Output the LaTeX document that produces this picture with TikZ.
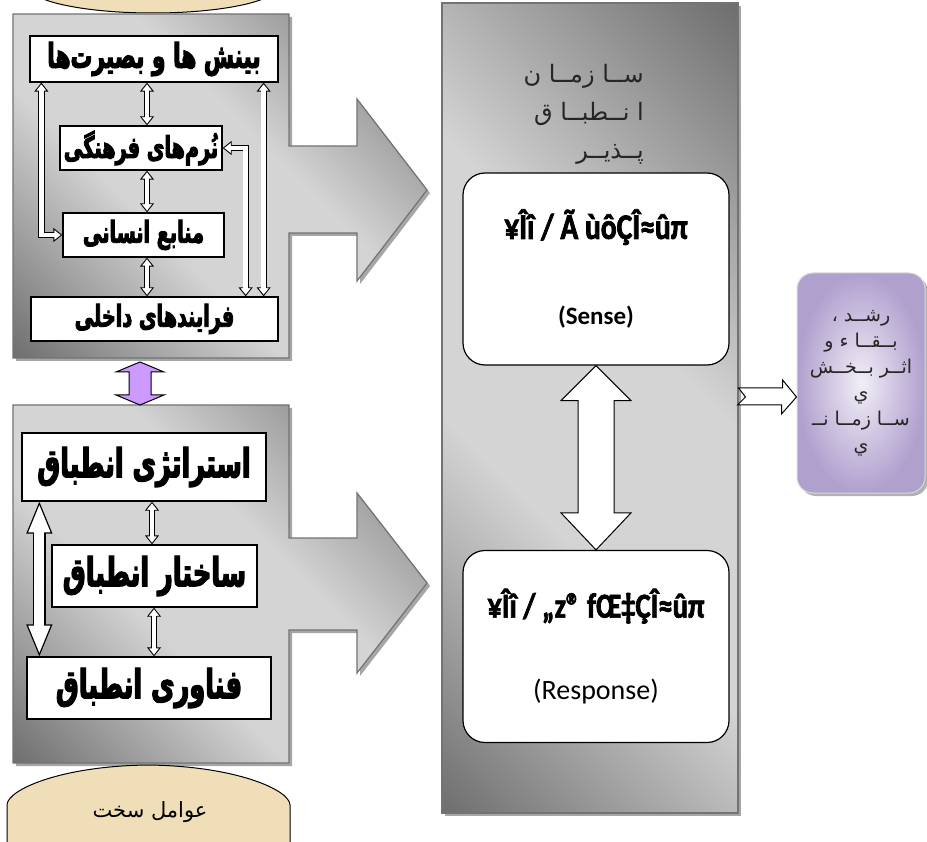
\documentclass[tikz,border=0pt]{standalone}
\usepackage{fontspec}
\setmainfont{Carlito}
\newfontfamily\garbled[FakeStretch=0.82, BoldFeatures={FakeBold=2}]{Carlito}
\newfontfamily\fafont[Script=Arabic]{DejaVu Sans}
\newfontfamily\fabox[Script=Arabic, FakeStretch=0.64, BoldFeatures={FakeBold=3}]{DejaVu Sans}
\TeXXeTstate=1
\usetikzlibrary{arrows.meta,calc,shadows}
\definecolor{panelDark}{RGB}{100,100,100}
\definecolor{panelLight}{RGB}{212,212,212}
\definecolor{sand}{RGB}{239,222,184}
\definecolor{lilac}{RGB}{204,153,255}
\definecolor{mauveDark}{RGB}{176,160,206}
\definecolor{mauveLight}{RGB}{242,238,247}
\pgfdeclarehorizontalshading{panelshade}{100bp}{color(0bp)=(panelDark); color(12bp)=(panelDark); color(40bp)=(panelLight); color(58bp)=(panelLight); color(88bp)=(panelDark); color(100bp)=(panelDark)}

\begin{document}
\begin{tikzpicture}[
		x=1pt, y=-1pt,
		panel/.style={draw=black!55, line width=1.2pt, shading=panelshade, shading angle=45,
			drop shadow={shadow xshift=3pt, shadow yshift=-3pt, fill=black!35, opacity=1}},
		factor/.style={draw, line width=1.3pt, fill=white, inner sep=0pt, font=\fabox\bfseries\fontsize{30}{34}\selectfont},
		bigfactor/.style={factor, font=\fabox\bfseries\fontsize{40}{44}\selectfont},
		phase/.style={draw, line width=1.2pt, fill=white, rounded corners=22pt, minimum width=266pt, minimum height=192pt, align=center, inner sep=0pt, font=\garbled\bfseries\fontsize{35}{38}\selectfont},
		link/.style={draw, line width=0.9pt, {Triangle[width=14pt,length=9pt,fill=white]}-{Triangle[width=14pt,length=9pt,fill=white]},
			preaction={draw, -, line width=6.3pt, shorten <=8pt, shorten >=8pt},
			postaction={draw=white, -, line width=4.5pt, shorten <=7.5pt, shorten >=7.5pt}},
		biglink/.style={draw, line width=1.2pt, {Triangle[width=26pt,length=32pt,fill=white]}-{Triangle[width=26pt,length=32pt,fill=white]},
			preaction={draw, -, line width=12.4pt, shorten <=30pt, shorten >=30pt},
			postaction={draw=white, -, line width=10pt, shorten <=30pt, shorten >=30pt}},
		block/.style={draw, line width=1pt, fill=white, line join=miter},
		sandcap/.style={draw, line width=1pt, fill=sand}
	]
	\useasboundingbox (0,0) rectangle (927,842);

	% soft and hard factors
	\draw[sandcap] (38,-20) -- (38,-5) .. controls (38,0) and (80,13) .. (153,13) .. controls (226,13) and (268,0) .. (268,-5) -- (268,-20) -- cycle;
	\draw[panel] (13,14) -- (289,14) -- (289,146) -- (357,146) -- (357,99) -- (427,190) -- (357,281) -- (357,233) -- (289,233) -- (289,358) -- (13,358) -- cycle;
	\draw[panel] (13,405) -- (289,405) -- (289,538) -- (357,538) -- (357,493) -- (427,583) -- (357,673) -- (357,630) -- (289,630) -- (289,763) -- (13,763) -- cycle;
	\draw[sandcap] (7,850) -- (7,805) .. controls (7,790) and (60,766) .. (148,765) .. controls (236,766) and (290,790) .. (290,805) -- (290,850) -- cycle;
	\node[font=\fafont\fontsize{21}{24}\selectfont] (hard) at (150,812) {\beginR عوامل سخت\endR};

	\node[factor, minimum width=248pt, minimum height=46pt, font=\fabox\bfseries\fontsize{34}{38}\selectfont] (insight) at (154,59) {\beginR بینش ها و بصیرت‌ها\endR};
	\node[factor, minimum width=162pt, minimum height=44pt] (norms) at (141,148) {\beginR نُرم‌های فرهنگی\endR};
	\node[factor, minimum width=161pt, minimum height=44pt] (people) at (143.5,235) {\beginR منابع انسانی\endR};
	\node[factor, minimum width=247pt, minimum height=44pt] (process) at (154.5,319) {\beginR فرایندهای  داخلی\endR};

	\node[bigfactor, minimum width=244pt, minimum height=68pt] (strategy) at (144,467) {\beginR استراتژی انطباق\endR};
	\node[bigfactor, minimum width=205pt, minimum height=62pt] (structure) at (154.5,576) {\beginR ساختار انطباق\endR};
	\node[bigfactor, minimum width=244pt, minimum height=62pt] (tech) at (149,688) {\beginR فناوری انطباق\endR};

	\draw[link] ($(insight.south)+(-7,0)$) -- ($(norms.north)+(6,0)$);
	\draw[link] ($(norms.south)+(6,0)$) -- ($(people.north)+(3.5,0)$);
	\draw[link] ($(people.south)+(3.5,0)$) -- ($(process.north)+(-7.5,0)$);
	\draw[link] ($(insight.south west)+(12,0)$) |- (people.west);
	\draw[link] (norms.east) -| ($(process.north east)+(-33,0)$);
	\draw[link] ($(insight.south east)+(-15,0)$) -- ($(process.north east)+(-15,0)$);

	\draw[link] ($(strategy.south)+(8,0)$) -- ($(structure.north)+(-2.5,0)$);
	\draw[link] ($(structure.south)+(-0.5,0)$) -- ($(tech.north)+(5,0)$);
	\draw[biglink] ($(strategy.south west)+(18,0)$) -- ($(tech.north west)+(13,0)$);

	\coordinate (upper) at (140,362);
	\coordinate (lower) at (140,405);
	\draw[block, fill=lilac] (upper) -- ++(24,10) -- ++(-13,0) -- ($(lower)+(11,-10)$) -- ++(13,0) -- (lower) -- ++(-24,-10) -- ++(13,0) -- ($(upper)+(-11,10)$) -- ++(-13,0) -- cycle;

	% adaptive organisation
	\node[panel, minimum width=296pt, minimum height=810pt, inner sep=0pt] (org) at (590,408) {};
	\node[font=\fafont\fontsize{24}{38}\selectfont, align=right, text=black!85, anchor=north east, inner sep=0pt] (orgname) at (644,64) {\beginR ســا زمــا ن\endR\\\beginR ا نــطبــا ق\endR\\\beginR پــذيــر\endR};
	\node[phase] (sense) at (596,269) {{\fontsize{36}{38}\selectfont ¥Îî / Ã ùôÇÎ≈ûπ}\\[48pt]{\normalfont\bfseries\fontsize{25}{28}\selectfont(Sense)}};
	\node[phase] (resp) at (596,646.5) {¥Îî / „z® fŒ‡ÇÎ≈ûπ\\[44pt]{\normalfont\fontsize{28}{32}\selectfont(Response)}};
	\draw[block] (sense.south) -- ++(35,35) -- ++(-17,0) -- ($(resp.north)+(18,-37)$) -- ++(17,0) -- (resp.north) -- ++(-35,-37) -- ++(17,0) -- ($(sense.south)+(-18,35)$) -- ++(-17,0) -- cycle;

	% outcome
	\node[draw=black!15, line width=1pt, rounded corners=16pt, inner color=mauveLight, outer color=mauveDark, minimum width=128pt, minimum height=220pt, align=center, inner sep=0pt,
		font=\fafont\fontsize{19}{26}\selectfont, text=black!85,
		drop shadow={shadow xshift=3pt, shadow yshift=-3pt, fill=black!30, opacity=1}] (goal) at (861,383)
		{\beginR رشــد ،\endR\\\beginR بــقــا ء  و\endR\\\beginR اثــر بــخــش\endR\\\beginR ي\endR\\\beginR ســا زمــا نــ\endR\\\beginR ي\endR};
	\coordinate (tip) at ($(goal.west)+(0,14)$);
	\draw[block] (org.east |- tip) ++(0,-9) -- ++(44,0) -- ++(0,-8) -- (tip) -- ++(-15,17) -- ++(0,-9) -- ++(-44,0) -- ++(8,-8) -- cycle;
\end{tikzpicture}
\end{document}
